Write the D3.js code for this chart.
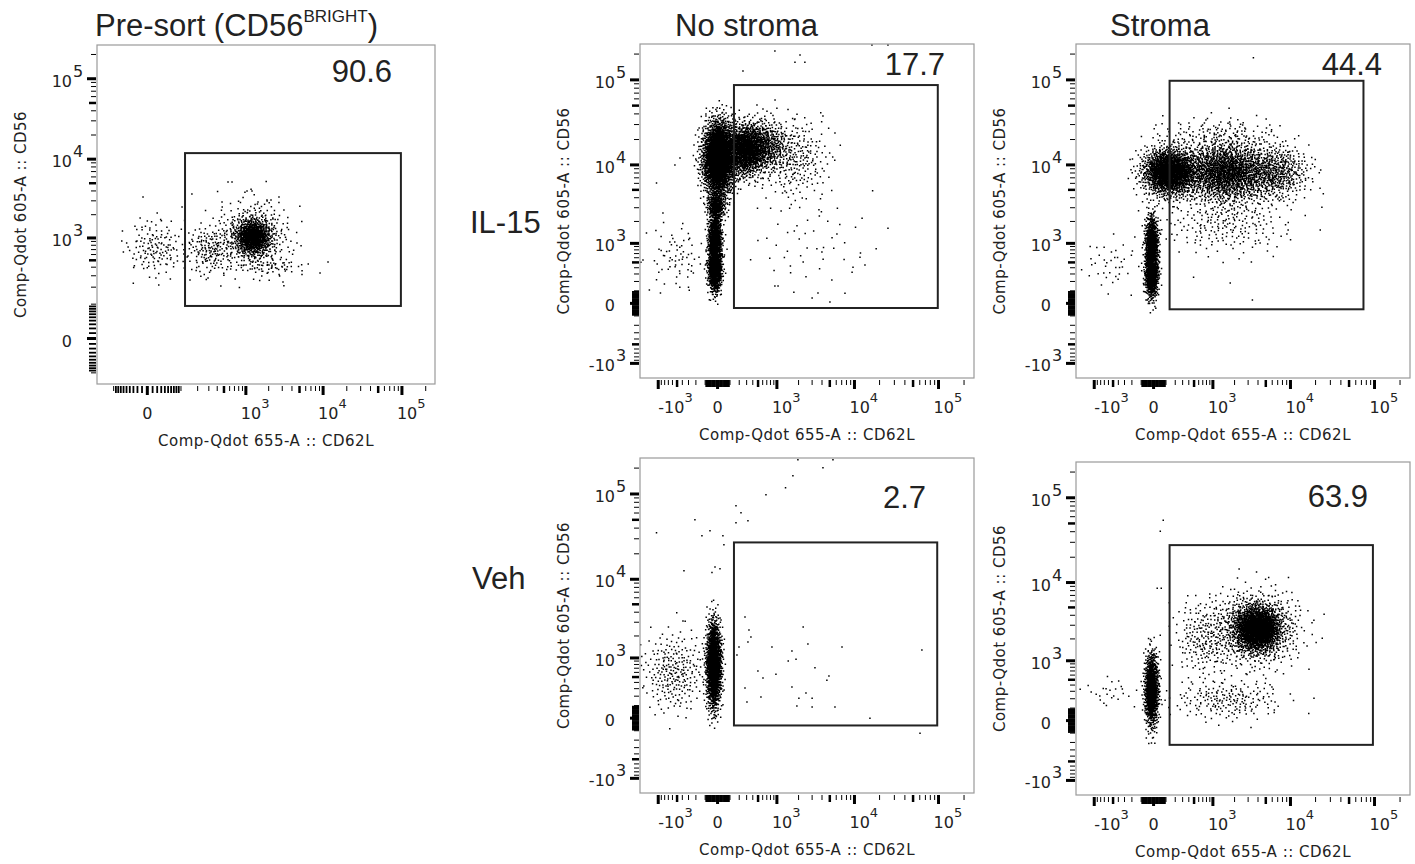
<!DOCTYPE html>
<html>
<head>
<script src="https://d3js.org/d3.v7.min.js"></script>
<style>
  body { margin: 0; background: #ffffff; }
  text { fill: #222222; }
  .title { font-family: "Liberation Sans", Arial, sans-serif; font-size: 31px; }
  .pct { font-family: "Liberation Sans", Arial, sans-serif; font-size: 31px; }
  .tick-label { font-family: "DejaVu Sans", sans-serif; font-size: 16px; }
  .axis-title { font-family: "DejaVu Sans", sans-serif; font-size: 15px; letter-spacing: 0.5px; }
</style>
</head>
<body>
<div id="chart"></div>
<script>

/* ---------- DATA (values in channel units) ---------- */

// gates: [xMin, xMax, yMin, yMax]
var presortGate   = [120, 97000, 92, 11900];
var il15NoGate    = [140, 98000, -33, 87000];
var il15StGate    = [136, 74000, -43, 97600];
var vehNoGate     = [140, 96500, -54, 27200];
var vehStGate     = [136, 95700, -230, 27800];

var gatePercents = ["90.6", "17.7", "44.4", "2.7", "63.9"];

// event clouds: x / y give the +-2 sd range of each population, n = number of events
var presortClouds = [
    {x: [710, 2150], y: [590, 1760], n: 750},
    {x: [400, 3700], y: [330, 3000], n: 380},
    {x: [-50, 120], y: [300, 1700], n: 140},
    {x: [120, 720], y: [310, 1470], n: 170},
    {x: [900, 6000], y: [300, 550], n: 50}
];
var il15NoClouds = [
    {x: [-122, 150], y: [4450, 32000], n: 2600},
    {x: [55, 655], y: [7300, 29600], n: 1000},
    {x: [100, 1500], y: [8500, 33000], n: 700},
    {x: [535, 5030], y: [3750, 34000], n: 250},
    {x: [-80, 60], y: [2000, 5000], n: 300},
    {x: [130, 20000], y: [108, 4970], n: 50},
    {x: [-70, 30], y: [90, 900], n: 800},
    {x: [-70, 30], y: [400, 2600], n: 800},
    {x: [-1310, -102], y: [108, 1800], n: 70}
];
var il15StClouds = [
    {x: [-80, 530], y: [4300, 15600], n: 1700},
    {x: [270, 5700], y: [3500, 19000], n: 1700},
    {x: [2400, 17000], y: [3800, 17000], n: 500},
    {x: [50, 9700], y: [700, 4500], n: 220},
    {x: [0, 8000], y: [15000, 38000], n: 120},
    {x: [-63, 34], y: [40, 900], n: 800},
    {x: [-63, 34], y: [400, 2400], n: 600},
    {x: [-1450, -108], y: [108, 1240], n: 40}
];
var vehNoClouds = [
    {x: [-85, 25], y: [100, 2800], n: 1800},
    {x: [-1700, -90], y: [40, 2200], n: 260}
];
var vehStClouds = [
    {x: [-65, 35], y: [-30, 1200], n: 1100},
    {x: [2000, 7500], y: [1400, 5100], n: 1600},
    {x: [1000, 13000], y: [800, 8100], n: 700},
    {x: [200, 2040], y: [560, 6130], n: 220},
    {x: [140, 8200], y: [4, 500], n: 200},
    {x: [-1450, -110], y: [100, 560], n: 25}
];

// single stray events [x, y]
var presortEvents = [
    [-8, 3350], [570, 5180], [648, 5180], [1036, 3990], [1207, 3990], [160, 3650],
    [469, 2900], [1450, 2900], [1900, 3070], [2145, 3070], [105, 2500], [20, 2100],
    [0, 1660], [4640, 860], [3066, 241], [9140, 329], [11550, 473], [148, 259],
    [292, 277], [17, 277], [-45, 760]
];
var il15NoEvents = [
    [934, 217000], [248, 127000], [1790, 161000], [2420, 161000], [2090, 195000],
    [16220, 255000], [25180, 255000], [478, 50800], [1000, 46700], [705, 43100],
    [1790, 34800], [4110, 37800], [5790, 23900], [-545, 10000], [-443, 12100],
    [-1060, 6050], [-850, 2570], [-1470, 1400], [-1640, 550], [-1340, 108],
    [11650, 610], [13380, 450], [9600, 410], [5300, 218], [3560, 80], [3000, 39],
    [5020, 10], [934, 149], [1040, 149], [3990, 740], [2300, 510]
];
var il15StEvents = [
    [3500, 181000], [490, 254], [1750, 182], [3400, 24], [3300, 510],
    [5240, 770], [9370, 1540], [3700, 1080]
];
var vehNoEvents = [
    [1960, 250700], [4110, 202000], [5470, 250700], [1680, 163000], [1330, 118000],
    [679, 98000], [162, 73000], [222, 60600], [320, 48700], [162, 46300],
    [-212, 50000], [-1060, 35200], [-57, 37200], [-132, 32500], [39, 32500],
    [47, 25500], [-18, 14000], [-41, 12000], [17, 13300], [-372, 12600],
    [-389, 3110], [-83, 4640], [276, 3490], [336, 2390], [368, 1940], [320, 1660],
    [197, 1420], [843, 1420], [2300, 2610], [2650, 1560], [1630, 1260], [1450, 900],
    [1850, 960], [7060, 1420], [63600, 1300], [3260, 710], [4880, 520], [4600, 440],
    [968, 560], [497, 630], [607, 480], [1630, 325], [2500, 240], [2020, 177],
    [3000, 177], [561, 190], [276, 310], [305, 134], [1900, 95], [3000, 86],
    [5790, 86], [15350, 0], [60400, -124], [173, 1100]
];
var vehStEvents = [
    [75, 54400], [50, 40500], [26, 8570], [58, 8570], [357, 5690], [133, 5690]
];

// axis tick labels
var tickLabels = [
    {v: -1000, base: "-10", sup: "3"},
    {v: 0, base: "0", sup: ""},
    {v: 1000, base: "10", sup: "3"},
    {v: 10000, base: "10", sup: "4"},
    {v: 100000, base: "10", sup: "5"}
];
var tickSteps = [1, 2, 3, 4, 5, 6, 7, 8, 9];
var tickDecades = [10, 100, 1000, 10000, 100000];

var xAxisTitle = "Comp-Qdot 655-A :: CD62L";
var yAxisTitle = "Comp-Qdot 605-A :: CD56";

/* ---------- LAYOUT ---------- */

var panels = [
    {left: 97, right: 435, top: 45, bottom: 384, c: 60, xDomain: [-200, 262144], yDomain: [-160, 262144],
     clouds: presortClouds, events: presortEvents, gate: presortGate, pct: gatePercents[0], pctRight: 392, pctBase: 82},
    {left: 640, right: 974, top: 44, bottom: 378, c: 250, xDomain: [-1800, 262144], yDomain: [-1600, 262144],
     clouds: il15NoClouds, events: il15NoEvents, gate: il15NoGate, pct: gatePercents[1], pctRight: 945, pctBase: 75},
    {left: 1076, right: 1410, top: 44, bottom: 378, c: 250, xDomain: [-1800, 262144], yDomain: [-1600, 262144],
     clouds: il15StClouds, events: il15StEvents, gate: il15StGate, pct: gatePercents[2], pctRight: 1382, pctBase: 75},
    {left: 640, right: 974, top: 458, bottom: 793, c: 250, xDomain: [-1800, 262144], yDomain: [-1600, 262144],
     clouds: vehNoClouds, events: vehNoEvents, gate: vehNoGate, pct: gatePercents[3], pctRight: 926, pctBase: 508},
    {left: 1076, right: 1410, top: 462, bottom: 795, c: 250, xDomain: [-1800, 262144], yDomain: [-1600, 262144],
     clouds: vehStClouds, events: vehStEvents, gate: vehStGate, pct: gatePercents[4], pctRight: 1368, pctBase: 507}
];

var svg = d3.select("#chart")
    .append("svg")
    .attr("width", 1415)
    .attr("height", 864);

/* titles */
var t0 = svg.append("text").attr("class", "title").attr("x", 95).attr("y", 36);
t0.append("tspan").text("Pre-sort (CD56");
t0.append("tspan").attr("font-size", "17px").attr("dy", -14).text("BRIGHT");
t0.append("tspan").attr("dy", 14).text(")");
svg.append("text").attr("class", "title").attr("x", 675).attr("y", 36).text("No stroma");
svg.append("text").attr("class", "title").attr("x", 1110).attr("y", 36).text("Stroma");
svg.append("text").attr("class", "title").attr("x", 470).attr("y", 233).text("IL-15");
svg.append("text").attr("class", "title").attr("x", 472).attr("y", 589).text("Veh");

/* deterministic low-discrepancy fill for the event clouds */
function halton(i, b) {
    var f = 1, r = 0;
    while (i > 0) {
        f = f / b;
        r += f * (i % b);
        i = Math.floor(i / b);
    }
    return r;
}
var seq = 0;

function tickList(domain) {
    var out = [{v: 0, s: 0, d: 0}];
    tickDecades.forEach(function(d) {
        tickSteps.forEach(function(s) {
            [s * d, -s * d].forEach(function(v) {
                if (v > domain[0] && v < domain[1]) out.push({v: v, s: s, d: d});
            });
        });
    });
    return out;
}

function tickStyle(t) {
    if (t.v === 0 || (t.s === 1 && t.d >= 1000)) return {w: 3, len: 9};
    if (t.d === 10) return {w: 1.8, len: 7};
    if (t.s === 5 && t.d >= 100) return {w: 2.5, len: 7};
    return {w: 1, len: 5};
}

panels.forEach(function(p, i) {
    var x = d3.scaleSymlog().constant(p.c).domain(p.xDomain).range([p.left, p.right]);
    var y = d3.scaleSymlog().constant(p.c).domain(p.yDomain).range([p.bottom, p.top]);
    var g = svg.append("g");

    g.append("clipPath").attr("id", "clip" + i)
        .append("rect")
        .attr("x", p.left).attr("y", p.top)
        .attr("width", p.right - p.left).attr("height", p.bottom - p.top);

    /* events */
    var path = d3.path();
    var sz = 1.5;
    p.clouds.forEach(function(cl) {
        var cx = (x(cl.x[0]) + x(cl.x[1])) / 2;
        var cy = (y(cl.y[0]) + y(cl.y[1])) / 2;
        var sdx = Math.abs(x(cl.x[1]) - x(cl.x[0])) / 4;
        var sdy = Math.abs(y(cl.y[1]) - y(cl.y[0])) / 4;
        for (var j = 0; j < cl.n; j++) {
            seq++;
            var u1 = halton(seq, 2), u2 = halton(seq, 3);
            var r = Math.min(3.2, Math.sqrt(-2 * Math.log(Math.max(u1, 1e-6))));
            var px = cx + r * Math.cos(2 * Math.PI * u2) * sdx;
            var py = cy + r * Math.sin(2 * Math.PI * u2) * sdy;
            path.rect(px - sz / 2, py - sz / 2, sz, sz);
        }
    });
    p.events.forEach(function(e) {
        path.rect(x(e[0]) - sz / 2, y(e[1]) - sz / 2, sz, sz);
    });
    g.append("path")
        .attr("d", path.toString())
        .attr("fill", "#000000")
        .attr("clip-path", "url(#clip" + i + ")");

    /* frame */
    g.append("rect")
        .attr("x", p.left).attr("y", p.top)
        .attr("width", p.right - p.left).attr("height", p.bottom - p.top)
        .attr("fill", "none")
        .attr("stroke", "#9a9a9a")
        .attr("stroke-width", 1.2);

    /* gate */
    g.append("rect")
        .attr("x", x(p.gate[0])).attr("y", y(p.gate[3]))
        .attr("width", x(p.gate[1]) - x(p.gate[0]))
        .attr("height", y(p.gate[2]) - y(p.gate[3]))
        .attr("fill", "none")
        .attr("stroke", "#222222")
        .attr("stroke-width", 2);

    g.append("text").attr("class", "pct")
        .attr("x", p.pctRight).attr("y", p.pctBase)
        .attr("text-anchor", "end")
        .text(p.pct);

    /* ticks */
    tickList(p.xDomain).forEach(function(t) {
        var st = tickStyle(t);
        g.append("line")
            .attr("x1", x(t.v)).attr("x2", x(t.v))
            .attr("y1", p.bottom + 2).attr("y2", p.bottom + 2 + st.len)
            .attr("stroke", "#000").attr("stroke-width", st.w);
    });
    tickList(p.yDomain).forEach(function(t) {
        var st = tickStyle(t);
        g.append("line")
            .attr("y1", y(t.v)).attr("y2", y(t.v))
            .attr("x1", p.left - 1).attr("x2", p.left - 1 - st.len)
            .attr("stroke", "#000").attr("stroke-width", st.w);
    });

    /* tick labels */
    tickLabels.forEach(function(l) {
        if (l.v > p.xDomain[0] && l.v < p.xDomain[1]) {
            var tx = g.append("text").attr("class", "tick-label")
                .attr("y", p.bottom + 35);
            if (l.sup) {
                tx.attr("x", x(l.v) + (l.v < 0 ? 0 : -5)).attr("text-anchor", "start");
                tx.append("tspan").text(l.base);
                tx.append("tspan").attr("dy", -11).attr("font-size", "13px").text(l.sup);
            } else {
                tx.attr("x", x(l.v)).attr("text-anchor", "middle").text(l.base);
            }
        }
        if (l.v > p.yDomain[0] && l.v < p.yDomain[1]) {
            var yy = y(l.v) + 8;
            g.append("text").attr("class", "tick-label")
                .attr("x", p.left - 25).attr("y", yy)
                .attr("text-anchor", "end")
                .text(l.base);
            if (l.sup) {
                g.append("text").attr("class", "tick-label")
                    .attr("x", p.left - 24).attr("y", yy - 10)
                    .attr("font-size", "13px")
                    .text(l.sup);
            }
        }
    });

    /* axis titles */
    g.append("text").attr("class", "axis-title")
        .attr("x", (p.left + p.right) / 2).attr("y", p.bottom + 62)
        .attr("text-anchor", "middle")
        .text(xAxisTitle);
    g.append("text").attr("class", "axis-title")
        .attr("transform", "translate(" + (p.left - 71) + "," + ((p.top + p.bottom) / 2) + ") rotate(-90)")
        .attr("text-anchor", "middle")
        .text(yAxisTitle);
});

</script>
</body>
</html>
